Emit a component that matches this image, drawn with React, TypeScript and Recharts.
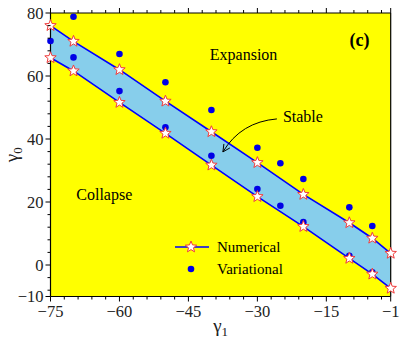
import React from "react";
import {
  ComposedChart,
  Area,
  Line,
  Scatter,
  XAxis,
  YAxis,
  ReferenceArea,
  ReferenceDot,
  Legend,
} from "recharts";

const SERIF = "'Liberation Serif', 'DejaVu Serif', serif";

// numerical boundaries of the stable region
const gamma1 = [-75, -70, -60, -50, -40, -30, -20, -10, -5, -1];
const upperNum = [76, 71, 62, 52, 42.3, 32.5, 22.4, 13.4, 8.5, 3.7];
const lowerNum = [65.8, 61.6, 51.6, 41.8, 31.7, 21.7, 12.2, 2.1, -2.9, -7.4];

// variational estimates
const varGamma1 = [-75, -70, -70, -60, -60, -50, -50, -40, -40, -30, -30, -25, -25, -20, -20, -10, -10, -5, -5];
const varGamma0 = [71.1, 78.8, 65.9, 67, 55.2, 58, 43.7, 49.2, 34.7, 37.2, 24.1, 32.3, 18.8, 27.3, 13.6, 18.3, 2.9, 12.4, -2.3];

const xMajor = [-75, -60, -45, -30, -15, -1];
const xMinor = [-72, -69, -66, -63, -57, -54, -51, -48, -42, -39, -36, -33, -27, -24, -21, -18, -12, -9, -6, -3];
const yMajor = [80, 60, 40, 20, 0, -10];
const yMinor = [76, 72, 68, 64, 56, 52, 48, 44, 36, 32, 28, 24, 16, 12, 8, 4, -4, -8];

const xTicks = [...xMajor, ...xMinor].sort((a, b) => a - b);
const yTicks = [...yMajor, ...yMinor].sort((a, b) => a - b);

const numData = gamma1.map((g, i) => ({
  x: g,
  upper: upperNum[i],
  lower: lowerNum[i],
  band: [lowerNum[i], upperNum[i]],
}));
const varData = varGamma1.map((g, i) => ({ x: g, y: varGamma0[i] }));

const fmt = (v: number) => (v < 0 ? `\u2212${Math.abs(v)}` : `${v}`);

const starPoints = (cx: number, cy: number, R = 6, r = 2.6) => {
  const pts: string[] = [];
  for (let k = 0; k < 10; k++) {
    const rad = k % 2 === 0 ? R : r;
    const a = -Math.PI / 2 + (k * Math.PI) / 5;
    pts.push(`${cx + rad * Math.cos(a)},${cy + rad * Math.sin(a)}`);
  }
  return pts.join(" ");
};

const Star = (props: any) => {
  const { cx, cy } = props;
  if (cx == null || cy == null) return null;
  return <polygon points={starPoints(cx, cy)} fill="#fff" stroke="#f03c3c" strokeWidth={1} />;
};

const BlueDot = (props: any) => <circle cx={props.cx} cy={props.cy} r={3.3} fill="#0000e6" />;

const BottomTick = ({ x, y, payload }: any) => {
  const major = xMajor.includes(payload.value);
  return (
    <g>
      <line x1={x} y1={y} x2={x} y2={y + (major ? 5 : 3)} stroke="#000" />
      {major && (
        <text x={x} y={y + 20} textAnchor="middle" fontSize={16.5} fontFamily={SERIF} fill="#222">
          {fmt(payload.value)}
        </text>
      )}
    </g>
  );
};

const TopTick = ({ x, y, payload }: any) => {
  const major = xMajor.includes(payload.value);
  return <line x1={x} y1={y} x2={x} y2={y - (major ? 5 : 3)} stroke="#000" />;
};

const LeftTick = ({ x, y, payload }: any) => {
  const major = yMajor.includes(payload.value);
  return (
    <g>
      <line x1={x - (major ? 5 : 3)} y1={y} x2={x} y2={y} stroke="#000" />
      {major && (
        <text x={x - 7} y={y} dy="0.34em" textAnchor="end" fontSize={16.5} fontFamily={SERIF} fill="#222">
          {fmt(payload.value)}
        </text>
      )}
    </g>
  );
};

const RightTick = ({ x, y, payload }: any) => {
  const major = yMajor.includes(payload.value);
  return <line x1={x} y1={y} x2={x + (major ? 5 : 3)} y2={y} stroke="#000" />;
};

const textShape = (label: string, size = 16, bold = false) => (p: any) => (
  <text
    x={p.cx}
    y={p.cy}
    dy="0.33em"
    textAnchor="middle"
    fontSize={size}
    fontWeight={bold ? "bold" : "normal"}
    fontFamily={SERIF}
    fill="#000"
  >
    {label}
  </text>
);

// arrow drawn from its tip back towards the "Stable" label
const ArrowShape = (p: any) => {
  const { cx, cy } = p;
  return (
    <g>
      <path d={`M ${cx + 54} ${cy - 33} Q ${cx + 18} ${cy - 30} ${cx} ${cy}`} fill="none" stroke="#000" strokeWidth={1} />
      <path d={`M ${cx + 1} ${cy - 8} L ${cx} ${cy} L ${cx + 7} ${cy - 4}`} fill="none" stroke="#000" strokeWidth={1} />
    </g>
  );
};

const renderLegend = () => (
  <div style={{ fontFamily: SERIF, fontSize: 15, color: "#000", lineHeight: "22px" }}>
    <div style={{ display: "flex", alignItems: "center", height: 22 }}>
      <svg width={34} height={14}>
        <line x1={0} y1={7} x2={34} y2={7} stroke="#0000ff" strokeWidth={1.5} />
        <polygon points={starPoints(16, 7)} fill="#fff" stroke="#f03c3c" strokeWidth={1} />
      </svg>
      <span style={{ marginLeft: 8 }}>Numerical</span>
    </div>
    <div style={{ display: "flex", alignItems: "center", height: 22 }}>
      <svg width={34} height={14}>
        <circle cx={16} cy={7} r={3.3} fill="#0000e6" />
      </svg>
      <span style={{ marginLeft: 8 }}>Variational</span>
    </div>
  </div>
);

const XLabel = (props: any) => {
  const { viewBox } = props;
  const cx = viewBox.x + viewBox.width / 2;
  return (
    <text x={cx} y={viewBox.y + 35} textAnchor="middle" fontFamily={SERIF} fontSize={19} fill="#222">
      γ<tspan fontSize={13} dy={4}>1</tspan>
    </text>
  );
};

const YLabel = (props: any) => {
  const { viewBox } = props;
  const cy = viewBox.y + viewBox.height / 2;
  const x = 18;
  return (
    <text x={x} y={cy} transform={`rotate(-90 ${x} ${cy})`} textAnchor="middle" fontFamily={SERIF} fontSize={19} fill="#222">
      γ<tspan fontSize={13} dy={4}>0</tspan>
    </text>
  );
};

export default function App() {
  return (
    <div style={{ position: "absolute", left: 0, top: 0 }}>
      <ComposedChart
        width={407}
        height={339}
        data={numData}
        margin={{ top: 0, right: 0, bottom: 0, left: 0 }}
        style={{ fontFamily: SERIF }}
      >
        <XAxis
          dataKey="x"
          type="number"
          domain={[-75, -1]}
          ticks={xTicks}
          interval={0}
          tickSize={0}
          tickMargin={0}
          tick={<BottomTick />}
          axisLine={{ stroke: "#000", strokeWidth: 1.2 }}
          height={42.5}
          label={<XLabel />}
        />
        <XAxis
          xAxisId="top"
          orientation="top"
          dataKey="x"
          type="number"
          domain={[-75, -1]}
          ticks={xTicks}
          interval={0}
          tickSize={0}
          tickMargin={0}
          tick={<TopTick />}
          axisLine={{ stroke: "#000", strokeWidth: 1.2 }}
          height={13}
        />
        <YAxis
          type="number"
          domain={[-10, 80]}
          ticks={yTicks}
          interval={0}
          tickSize={0}
          tickMargin={0}
          tick={<LeftTick />}
          axisLine={{ stroke: "#000", strokeWidth: 1.2 }}
          width={50.5}
          label={<YLabel />}
        />
        <YAxis
          yAxisId="right"
          orientation="right"
          type="number"
          domain={[-10, 80]}
          ticks={yTicks}
          interval={0}
          tickSize={0}
          tickMargin={0}
          tick={<RightTick />}
          axisLine={{ stroke: "#000", strokeWidth: 1.2 }}
          width={16.3}
        />
        <ReferenceArea x1={-75} x2={-1} y1={-10} y2={80} fill="#ffff00" fillOpacity={1} stroke="none" />
        <Area
          type="linear"
          dataKey="band"
          fill="#87ceeb"
          fillOpacity={1}
          stroke="none"
          isAnimationActive={false}
        />
        <Scatter data={varData} dataKey="y" shape={<BlueDot />} isAnimationActive={false} />
        <Line type="linear" dataKey="upper" stroke="#0000ff" strokeWidth={1.6} dot={<Star />} isAnimationActive={false} />
        <Line type="linear" dataKey="lower" stroke="#0000ff" strokeWidth={1.6} dot={<Star />} isAnimationActive={false} />
        <ReferenceDot x={-33} y={66.7} r={0} shape={textShape("Expansion")} />
        <ReferenceDot x={-63.3} y={22.2} r={0} shape={textShape("Collapse")} />
        <ReferenceDot x={-20.1} y={47} r={0} shape={textShape("Stable")} />
        <ReferenceDot x={-7.8} y={71.4} r={0} shape={textShape("(c)", 18, true)} />
        <ReferenceDot x={-37.5} y={35.9} r={0} shape={ArrowShape} />
        <Legend
          layout="vertical"
          align="center"
          verticalAlign="middle"
          content={renderLegend}
          wrapperStyle={{ left: 175, top: 236, width: "auto", height: "auto" }}
        />
      </ComposedChart>
    </div>
  );
}
